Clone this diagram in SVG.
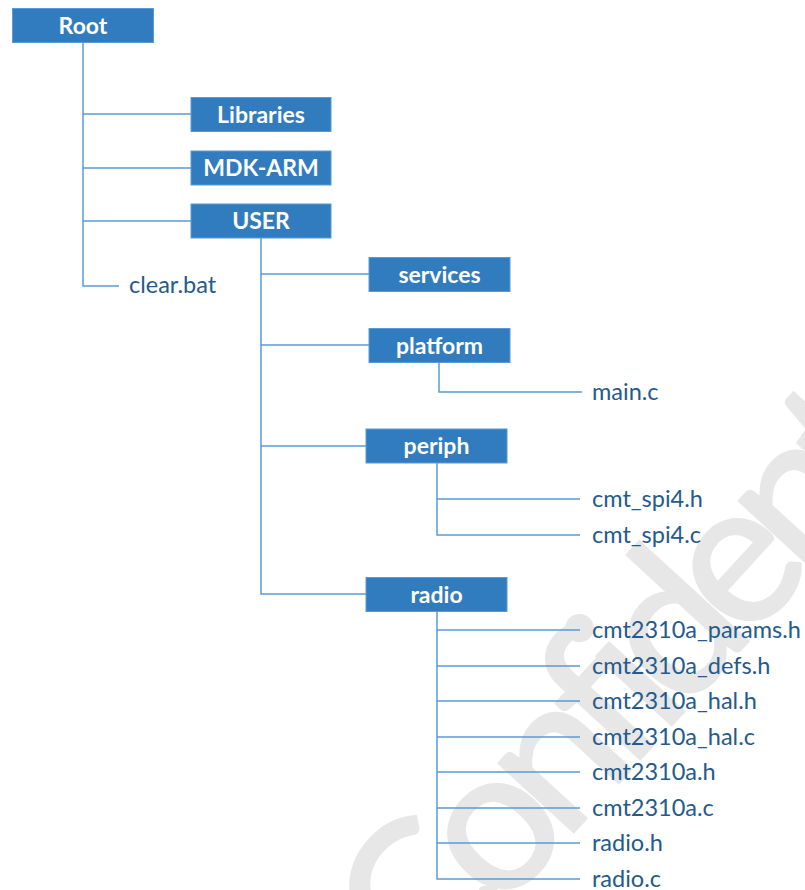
<svg xmlns="http://www.w3.org/2000/svg" width="805" height="890" viewBox="0 0 805 890">
<style>
.bg{fill:#ffffff}
.wm{fill:#e7e7e7;stroke:#e7e7e7;stroke-width:3;font-family:Lato,"Open Sans",sans-serif;font-size:200px;letter-spacing:-18px}
.box{fill:#317bbf;stroke:#5b9bd5;stroke-width:1}
.bt{fill:#ffffff;font-family:Lato,"Liberation Sans",sans-serif;font-weight:bold;font-size:23px;text-anchor:middle}
.ft{fill:#245a8d;font-family:Lato,"Liberation Sans",sans-serif;font-size:23.5px}
.ln{fill:none;stroke:#5b9bd5;stroke-width:1.5}
</style>
<rect class="bg" x="0" y="0" width="805" height="890"/>
<text class="wm" transform="translate(423,996) rotate(-47.5)">Confidential</text>
<g id="connectors">
<path class="ln" d="M83,42 V286 H119 M83,114 H191 M83,168 H191 M83,221 H191"/>
<path class="ln" d="M261,238 V594 H366 M261,274 H369 M261,345 H369 M261,446 H366"/>
<path class="ln" d="M439,362 V392 H582"/>
<path class="ln" d="M437,463 V535 H580 M437,499 H580"/>
<path class="ln" d="M437,611 V879 H580 M437,630 H580 M437,666 H580 M437,701 H580 M437,737 H580 M437,772 H580 M437,808 H580 M437,843 H580"/>
</g>
<g id="root"><rect class="box" x="12.5" y="8.5" width="141" height="34"/><text class="bt" x="83" y="33.5">Root</text></g>
<g id="libraries"><rect class="box" x="191" y="97.5" width="140" height="34"/><text class="bt" x="261" y="122.5">Libraries</text></g>
<g id="mdk-arm"><rect class="box" x="191" y="151" width="140" height="34"/><text class="bt" x="261" y="176">MDK-ARM</text></g>
<g id="user"><rect class="box" x="191" y="204" width="140" height="34"/><text class="bt" x="261" y="229">USER</text></g>
<g id="clear-bat"><text class="ft" x="129" y="293">clear.bat</text></g>
<g id="services"><rect class="box" x="369" y="257.5" width="141" height="34"/><text class="bt" x="439.5" y="282.5">services</text></g>
<g id="platform"><rect class="box" x="369" y="328.5" width="141" height="34"/><text class="bt" x="439.5" y="353.5">platform</text></g>
<g id="main-c"><text class="ft" x="592" y="400">main.c</text></g>
<g id="periph"><rect class="box" x="366" y="429" width="141" height="34"/><text class="bt" x="436.5" y="454">periph</text></g>
<g id="cmt-spi4-h"><text class="ft" x="592" y="507">cmt_spi4.h</text></g>
<g id="cmt-spi4-c"><text class="ft" x="592" y="543">cmt_spi4.c</text></g>
<g id="radio"><rect class="box" x="366" y="577.5" width="141" height="34"/><text class="bt" x="436.5" y="602.5">radio</text></g>
<g id="cmt2310a-params-h"><text class="ft" x="592" y="638">cmt2310a_params.h</text></g>
<g id="cmt2310a-defs-h"><text class="ft" x="592" y="674">cmt2310a_defs.h</text></g>
<g id="cmt2310a-hal-h"><text class="ft" x="592" y="709">cmt2310a_hal.h</text></g>
<g id="cmt2310a-hal-c"><text class="ft" x="592" y="745">cmt2310a_hal.c</text></g>
<g id="cmt2310a-h"><text class="ft" x="592" y="780">cmt2310a.h</text></g>
<g id="cmt2310a-c"><text class="ft" x="592" y="816">cmt2310a.c</text></g>
<g id="radio-h"><text class="ft" x="592" y="851">radio.h</text></g>
<g id="radio-c"><text class="ft" x="592" y="887">radio.c</text></g>
</svg>
